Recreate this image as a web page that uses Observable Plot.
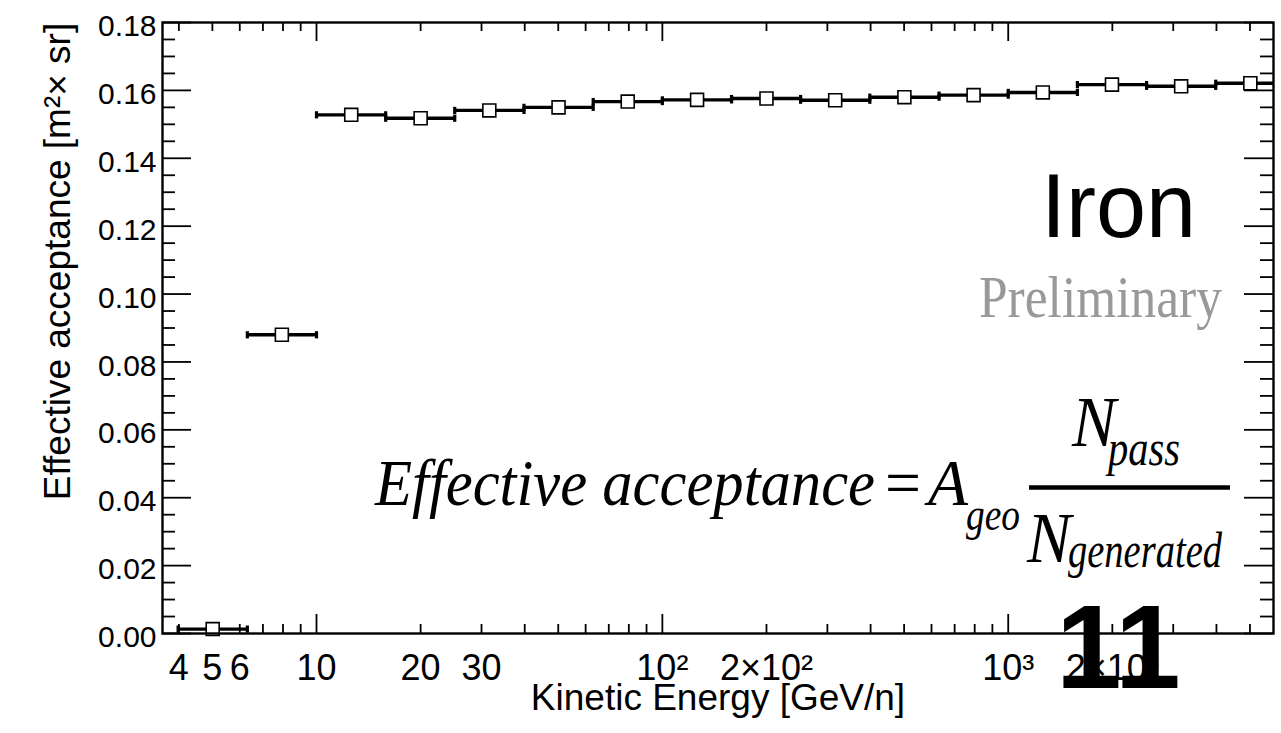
<!DOCTYPE html>
<html><head><meta charset="utf-8">
<script src="https://cdn.jsdelivr.net/npm/d3@7"></script>
<script src="https://cdn.jsdelivr.net/npm/@observablehq/plot@0.6"></script>
<style>html,body{margin:0;padding:0;background:#fff;} #chart{position:relative;width:1281px;height:733px;overflow:hidden}</style>
</head><body><div id="chart"></div>
<script>
// ---- data ----
const binLow    = [3.98, 6.31, 10, 15.85, 25.1, 39.8, 63.1, 100, 158.5, 251, 398, 631, 1000, 1585, 2512, 3981];
const binHigh   = [6.31, 10, 15.85, 25.1, 39.8, 63.1, 100, 158.5, 251, 398, 631, 1000, 1585, 2512, 3981, 6310];
const binCenter = [5.01, 7.94, 12.6, 20.0, 31.6, 50.1, 79.4, 126, 200, 316, 501, 794, 1259, 1995, 3162, 5012];
const acceptance = [0.0013, 0.088, 0.1528, 0.1518, 0.1541, 0.1550, 0.1567, 0.1572, 0.1576, 0.1571, 0.1580, 0.1586, 0.1594, 0.1617, 0.1612, 0.1621];

const xMajorTicks = [10, 100, 1000];
const xMinorTicks = [4,5,6,7,8,9,20,30,40,50,60,70,80,90,200,300,400,500,600,700,800,900,2000,3000,4000,5000];
const xLabelValues = [4,5,6,10,20,30,100,200,1000,2000];
const xLabelTexts  = ["4","5","6","10","20","30","10²","2×10²","10³","2×10³"];
const yMajorTicks = [0,0.02,0.04,0.06,0.08,0.10,0.12,0.14,0.16,0.18];
const yMinorTicks = [0.005,0.01,0.015,0.025,0.03,0.035,0.045,0.05,0.055,0.065,0.07,0.075,0.085,0.09,0.095,0.105,0.11,0.115,0.125,0.13,0.135,0.145,0.15,0.155,0.165,0.17,0.175];
const xTitle = "Kinetic Energy [GeV/n]";
const yTitle = "Effective acceptance [m²× sr]";

// ---- layout ----
const W = 1281, H = 733, mL = 162, mR = 8, mT = 22, mB = 100;
const innerW = W - mL - mR, innerH = H - mT - mB;
const rows = binCenter.map((c, i) => ({c, lo: binLow[i], hi: binHigh[i], v: acceptance[i]}));
const capSymbol = {draw(ctx) { ctx.rect(-1.6, -3.6, 3.2, 7.2); }};
const sans = "'Liberation Sans', Arial, Helvetica, sans-serif";
const tw = 1.8;

const chart = Plot.plot({
  width: W, height: H,
  marginLeft: mL, marginRight: mR, marginTop: mT, marginBottom: mB,
  style: {fontFamily: sans, background: "white", color: "black"},
  x: {type: "log", domain: [3.587, 5848], axis: null},
  y: {domain: [0, 0.18], axis: null},
  marks: [
    Plot.tickX(xMinorTicks, {x: d => d, insetTop: innerH - 9, strokeWidth: tw}),
    Plot.tickX(xMinorTicks, {x: d => d, insetBottom: innerH - 9, strokeWidth: tw}),
    Plot.tickX(xMajorTicks, {x: d => d, insetTop: innerH - 19, strokeWidth: tw}),
    Plot.tickX(xMajorTicks, {x: d => d, insetBottom: innerH - 19, strokeWidth: tw}),
    Plot.tickY(yMinorTicks, {y: d => d, insetRight: innerW - 13, strokeWidth: tw}),
    Plot.tickY(yMinorTicks, {y: d => d, insetLeft: innerW - 13, strokeWidth: tw}),
    Plot.tickY(yMajorTicks, {y: d => d, insetRight: innerW - 29, strokeWidth: tw}),
    Plot.tickY(yMajorTicks, {y: d => d, insetLeft: innerW - 29, strokeWidth: tw}),
    Plot.ruleY(rows, {y: "v", x1: "lo", x2: "hi", strokeWidth: 3.4, clip: true}),
    Plot.dot(rows, {x: "lo", y: "v", symbol: capSymbol, fill: "black", clip: true}),
    Plot.dot(rows, {x: "hi", y: "v", symbol: capSymbol, fill: "black", clip: true}),
    Plot.dot(rows, {x: "c", y: "v", symbol: "square", r: 7.3, fill: "white", stroke: "black", strokeWidth: 1.6}),
    Plot.frame({stroke: "black", strokeWidth: 2.4}),
    Plot.text(yMajorTicks, {y: d => d, frameAnchor: "left", text: d => d.toFixed(2), textAnchor: "end", dx: -6, dy: 4, fontSize: 30, fill: "black"}),
    Plot.text(xLabelValues, {x: d => d, frameAnchor: "bottom", text: (d, i) => xLabelTexts[i], dy: 46, fontSize: 36, fill: "black"}),
    Plot.text([xTitle], {frameAnchor: "bottom", text: d => d, textAnchor: "middle", dy: 76, fontSize: 37, fill: "black"}),
    Plot.text([yTitle], {frameAnchor: "left", text: d => d, textAnchor: "middle", rotate: -90, dx: -104, dy: -66.5, fontSize: 37, fill: "black"})
  ]
});
document.getElementById("chart").appendChild(chart);

// ---- annotations ----
const svg = d3.select(chart);
const g = svg.append("g").attr("class", "annotations").attr("text-anchor", "start");
const serif = "'Liberation Serif', 'Times New Roman', serif";
function txt(s, x, y, size, opts = {}) {
  const t = g.append("text").attr("x", x).attr("y", y).text(s)
    .attr("text-anchor", "start")
    .attr("font-size", size).attr("font-family", opts.family || serif)
    .attr("fill", opts.fill || "black");
  if (opts.italic) t.attr("font-style", "italic");
  if (opts.bold) t.attr("font-weight", "bold");
  if (opts.len) t.attr("textLength", opts.len).attr("lengthAdjust", "spacingAndGlyphs");
  return t;
}
txt("Iron", 1041, 237, 90, {family: sans});
txt("Preliminary", 979, 317, 60, {fill: "#999999", len: 243});
// formula
txt("Effective acceptance", 375, 505, 66, {italic: true, len: 500});
txt("=", 885, 505, 66, {len: 36});
txt("A", 928, 505, 66, {italic: true, len: 40});
txt("geo", 966, 530, 46, {italic: true, len: 54});
g.append("line").attr("x1", 1029).attr("x2", 1230).attr("y1", 487.5).attr("y2", 487.5).attr("stroke", "black").attr("stroke-width", 4.5);
txt("N", 1072, 446, 72, {italic: true, len: 44});
txt("pass", 1108, 465, 50, {italic: true, len: 72});
txt("N", 1027, 562, 72, {italic: true, len: 44});
txt("generated", 1068, 567, 50, {italic: true, len: 154});
txt("11", 1056, 688, 118, {family: sans, bold: true});
</script>
</body></html>
